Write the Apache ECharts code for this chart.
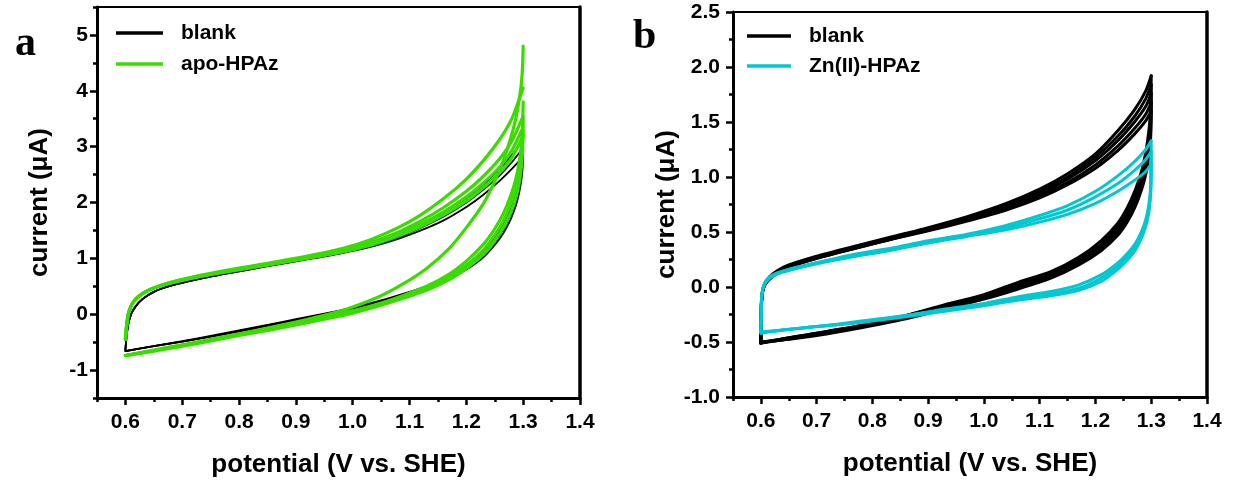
<!DOCTYPE html>
<html>
<head>
<meta charset="utf-8">
<script src="https://cdn.jsdelivr.net/npm/echarts@6/dist/echarts.min.js"></script>
<style>html,body{margin:0;padding:0;background:#fff}#c{width:1235px;height:484px}</style>
</head>
<body>
<div id="c"></div>
<script>
// ---------- Panel a : potential grids (V vs. SHE) ----------
const E_UP_A = [0.600, 0.602, 0.605, 0.610, 0.618, 0.630, 0.650, 0.680, 0.720, 0.780, 0.850, 0.920, 0.980, 1.030, 1.080, 1.120, 1.160, 1.200, 1.230, 1.260, 1.280, 1.300];
const E_DN_A = [1.300, 1.299, 1.297, 1.293, 1.287, 1.278, 1.265, 1.250, 1.230, 1.200, 1.170, 1.130, 1.090, 1.050, 1.000, 0.950, 0.900, 0.850, 0.800, 0.750, 0.700, 0.650, 0.600];

// blank (black), anodic branches, current in µA
const BLANK_A_UP1 = [-0.64, -0.40, -0.18, 0.00, 0.14, 0.27, 0.40, 0.51, 0.61, 0.73, 0.86, 0.98, 1.09, 1.20, 1.35, 1.50, 1.68, 1.92, 2.14, 2.40, 2.60, 2.82];
const BLANK_A_UP2 = [-0.64, -0.40, -0.18, 0.00, 0.14, 0.27, 0.40, 0.51, 0.61, 0.73, 0.86, 0.99, 1.10, 1.22, 1.38, 1.55, 1.75, 2.00, 2.23, 2.50, 2.72, 2.98];
const BLANK_A_UP3 = [-0.64, -0.40, -0.18, 0.00, 0.14, 0.27, 0.40, 0.51, 0.61, 0.74, 0.87, 1.00, 1.12, 1.24, 1.41, 1.60, 1.82, 2.08, 2.32, 2.62, 2.85, 3.12];
// blank (black), cathodic branches
const BLANK_A_DN1 = [2.82, 2.62, 2.42, 2.18, 1.94, 1.70, 1.45, 1.24, 1.02, 0.80, 0.63, 0.46, 0.33, 0.22, 0.10, -0.01, -0.11, -0.21, -0.31, -0.40, -0.49, -0.57, -0.66];
const BLANK_A_DN2 = [2.98, 2.78, 2.56, 2.30, 2.05, 1.79, 1.52, 1.30, 1.07, 0.84, 0.66, 0.48, 0.35, 0.23, 0.11, 0.00, -0.10, -0.20, -0.30, -0.40, -0.49, -0.57, -0.66];
const BLANK_A_DN3 = [3.12, 2.92, 2.70, 2.43, 2.16, 1.88, 1.60, 1.37, 1.12, 0.88, 0.69, 0.50, 0.37, 0.25, 0.12, 0.01, -0.09, -0.19, -0.29, -0.39, -0.48, -0.57, -0.66];

// apo-HPAz (green), anodic branches
const APO_UP1 = [-0.45, -0.22, 0.00, 0.15, 0.27, 0.37, 0.47, 0.57, 0.67, 0.79, 0.91, 1.04, 1.17, 1.33, 1.55, 1.78, 2.07, 2.42, 2.75, 3.15, 3.50, 4.05];
const APO_UP2 = [-0.45, -0.22, 0.00, 0.15, 0.27, 0.37, 0.47, 0.57, 0.66, 0.78, 0.90, 1.02, 1.14, 1.28, 1.47, 1.67, 1.91, 2.20, 2.47, 2.80, 3.10, 3.55];
const APO_UP3 = [-0.45, -0.22, 0.00, 0.15, 0.27, 0.37, 0.47, 0.56, 0.66, 0.77, 0.89, 1.01, 1.12, 1.25, 1.43, 1.61, 1.83, 2.10, 2.35, 2.65, 2.93, 3.35];
const APO_UP4 = [-0.45, -0.22, 0.00, 0.15, 0.27, 0.37, 0.47, 0.56, 0.65, 0.76, 0.88, 1.00, 1.11, 1.23, 1.40, 1.57, 1.78, 2.03, 2.27, 2.55, 2.80, 3.20];
// apo-HPAz (green), cathodic branches
const APO_DN1 = [4.80, 4.45, 4.15, 3.85, 3.50, 3.15, 2.75, 2.38, 1.98, 1.55, 1.18, 0.82, 0.55, 0.33, 0.13, -0.02, -0.14, -0.25, -0.35, -0.45, -0.55, -0.64, -0.74];
const APO_DN2 = [3.80, 3.40, 3.05, 2.72, 2.42, 2.12, 1.80, 1.53, 1.25, 0.95, 0.72, 0.50, 0.34, 0.20, 0.06, -0.05, -0.15, -0.26, -0.36, -0.46, -0.56, -0.65, -0.74];
const APO_DN3 = [3.50, 3.15, 2.85, 2.52, 2.25, 1.97, 1.67, 1.42, 1.15, 0.88, 0.67, 0.46, 0.31, 0.18, 0.04, -0.07, -0.17, -0.27, -0.37, -0.47, -0.56, -0.65, -0.74];
const APO_DN4 = [3.30, 2.95, 2.65, 2.35, 2.08, 1.82, 1.55, 1.32, 1.07, 0.82, 0.62, 0.43, 0.29, 0.16, 0.02, -0.09, -0.19, -0.29, -0.38, -0.48, -0.57, -0.66, -0.74];

// ---------- Panel b ----------
const E_UP_B = [0.600, 0.6005, 0.601, 0.603, 0.607, 0.615, 0.630, 0.650, 0.700, 0.760, 0.830, 0.900, 0.970, 1.040, 1.100, 1.150, 1.200, 1.240, 1.270, 1.290, 1.300];
const E_DN_B = [1.300, 1.2995, 1.299, 1.297, 1.294, 1.290, 1.283, 1.272, 1.258, 1.240, 1.210, 1.170, 1.120, 1.060, 1.000, 0.930, 0.860, 0.780, 0.700, 0.640, 0.600];

const BLANK_B_UP1 = [-0.50, -0.30, -0.15, -0.04, 0.02, 0.07, 0.13, 0.18, 0.26, 0.34, 0.43, 0.51, 0.60, 0.70, 0.81, 0.93, 1.08, 1.24, 1.39, 1.51, 1.60];
const BLANK_B_UP2 = [-0.50, -0.30, -0.15, -0.04, 0.02, 0.07, 0.13, 0.18, 0.26, 0.34, 0.43, 0.52, 0.61, 0.72, 0.83, 0.95, 1.11, 1.28, 1.44, 1.57, 1.68];
const BLANK_B_UP3 = [-0.51, -0.30, -0.15, -0.04, 0.02, 0.08, 0.14, 0.19, 0.27, 0.35, 0.44, 0.53, 0.62, 0.73, 0.85, 0.98, 1.15, 1.33, 1.50, 1.64, 1.76];
const BLANK_B_UP4 = [-0.51, -0.30, -0.15, -0.04, 0.03, 0.08, 0.14, 0.19, 0.27, 0.35, 0.44, 0.53, 0.63, 0.74, 0.87, 1.00, 1.18, 1.37, 1.55, 1.71, 1.84];
const BLANK_B_UP5 = [-0.51, -0.30, -0.15, -0.04, 0.03, 0.09, 0.15, 0.20, 0.28, 0.36, 0.45, 0.54, 0.64, 0.76, 0.89, 1.03, 1.21, 1.42, 1.61, 1.78, 1.92];
const BLANK_B_DN1 = [1.60, 1.46, 1.36, 1.24, 1.13, 1.02, 0.89, 0.74, 0.60, 0.47, 0.33, 0.20, 0.08, -0.02, -0.11, -0.20, -0.29, -0.37, -0.44, -0.48, -0.50];
const BLANK_B_DN2 = [1.68, 1.53, 1.42, 1.29, 1.18, 1.06, 0.93, 0.77, 0.63, 0.49, 0.35, 0.21, 0.09, -0.01, -0.10, -0.19, -0.28, -0.36, -0.43, -0.48, -0.50];
const BLANK_B_DN3 = [1.76, 1.61, 1.49, 1.35, 1.23, 1.11, 0.97, 0.81, 0.66, 0.52, 0.37, 0.23, 0.11, 0.01, -0.09, -0.18, -0.27, -0.36, -0.43, -0.48, -0.51];
const BLANK_B_DN4 = [1.84, 1.68, 1.56, 1.41, 1.29, 1.16, 1.01, 0.85, 0.69, 0.55, 0.39, 0.25, 0.12, 0.02, -0.08, -0.17, -0.26, -0.35, -0.42, -0.47, -0.51];
const BLANK_B_DN5 = [1.92, 1.76, 1.63, 1.48, 1.35, 1.22, 1.06, 0.89, 0.73, 0.58, 0.42, 0.27, 0.14, 0.04, -0.07, -0.16, -0.26, -0.35, -0.42, -0.47, -0.51];

const ZN_UP1 = [-0.41, -0.25, -0.12, -0.03, 0.03, 0.08, 0.12, 0.15, 0.21, 0.27, 0.33, 0.40, 0.46, 0.52, 0.59, 0.66, 0.76, 0.87, 0.97, 1.05, 1.12];
const ZN_UP2 = [-0.41, -0.25, -0.12, -0.03, 0.03, 0.08, 0.12, 0.16, 0.22, 0.28, 0.34, 0.41, 0.47, 0.54, 0.62, 0.70, 0.82, 0.94, 1.06, 1.16, 1.23];
const ZN_UP3 = [-0.42, -0.25, -0.12, -0.03, 0.04, 0.09, 0.13, 0.16, 0.22, 0.29, 0.35, 0.42, 0.48, 0.56, 0.65, 0.74, 0.87, 1.01, 1.14, 1.25, 1.33];
const ZN_DN1 = [1.12, 0.94, 0.85, 0.73, 0.63, 0.55, 0.45, 0.34, 0.25, 0.16, 0.05, -0.03, -0.08, -0.12, -0.17, -0.22, -0.27, -0.32, -0.36, -0.39, -0.41];
const ZN_DN2 = [1.23, 0.98, 0.88, 0.76, 0.66, 0.58, 0.48, 0.37, 0.28, 0.19, 0.08, -0.01, -0.06, -0.10, -0.16, -0.21, -0.26, -0.32, -0.36, -0.39, -0.41];
const ZN_DN3 = [1.33, 1.02, 0.92, 0.80, 0.70, 0.61, 0.51, 0.40, 0.31, 0.22, 0.11, 0.02, -0.04, -0.09, -0.15, -0.20, -0.26, -0.31, -0.36, -0.39, -0.42];

// ---------- tick values ----------
const X_MAJOR = [0.6, 0.7, 0.8, 0.9, 1.0, 1.1, 1.2, 1.3, 1.4];
const X_MINOR = [0.55, 0.65, 0.75, 0.85, 0.95, 1.05, 1.15, 1.25, 1.35];
const YA_MAJOR = [-1, 0, 1, 2, 3, 4, 5];
const YA_MINOR = [-1.5, -0.5, 0.5, 1.5, 2.5, 3.5, 4.5, 5.5];
const YB_MAJOR = [-1.0, -0.5, 0.0, 0.5, 1.0, 1.5, 2.0, 2.5];
const YB_MINOR = [-0.75, -0.25, 0.25, 0.75, 1.25, 1.75, 2.25];

const NAMES_A = ['blank', 'apo-HPAz'];
const NAMES_B = ['blank', 'Zn(II)-HPAz'];

const FONT = 'Liberation Sans, Arial, sans-serif';
const BLACK = '#000000', GREEN = '#3ADC00', CYAN = '#00C8D3';

function pts(E, I) { return E.map((e, k) => [e, I[k]]); }
function curve(name, panel, E, I, color, width, z) {
  return {
    name, type: 'line', xAxisIndex: panel, yAxisIndex: panel,
    data: pts(E, I), symbol: 'none', showSymbol: false,
    smooth: 0.25,
    lineStyle: { color, width, cap: 'round', join: 'round' },
    itemStyle: { color }, z, silent: true, animation: false
  };
}

const series = [
  curve(NAMES_A[0], 0, E_UP_A, BLANK_A_UP1, BLACK, 1.8, 2),
  curve(NAMES_A[0], 0, E_UP_A, BLANK_A_UP2, BLACK, 1.8, 2),
  curve(NAMES_A[0], 0, E_UP_A, BLANK_A_UP3, BLACK, 1.8, 2),
  curve(NAMES_A[0], 0, E_DN_A, BLANK_A_DN1, BLACK, 1.8, 2),
  curve(NAMES_A[0], 0, E_DN_A, BLANK_A_DN2, BLACK, 1.8, 2),
  curve(NAMES_A[0], 0, E_DN_A, BLANK_A_DN3, BLACK, 1.8, 2),
  curve(NAMES_A[1], 0, E_UP_A, APO_UP1, GREEN, 3.2, 3),
  curve(NAMES_A[1], 0, E_UP_A, APO_UP2, GREEN, 3.2, 3),
  curve(NAMES_A[1], 0, E_UP_A, APO_UP3, GREEN, 3.2, 3),
  curve(NAMES_A[1], 0, E_UP_A, APO_UP4, GREEN, 3.2, 3),
  curve(NAMES_A[1], 0, E_DN_A, APO_DN1, GREEN, 3.2, 3),
  curve(NAMES_A[1], 0, E_DN_A, APO_DN2, GREEN, 3.2, 3),
  curve(NAMES_A[1], 0, E_DN_A, APO_DN3, GREEN, 3.2, 3),
  curve(NAMES_A[1], 0, E_DN_A, APO_DN4, GREEN, 3.2, 3),
  curve(NAMES_B[0], 1, E_UP_B, BLANK_B_UP1, BLACK, 3, 2),
  curve(NAMES_B[0], 1, E_UP_B, BLANK_B_UP2, BLACK, 3, 2),
  curve(NAMES_B[0], 1, E_UP_B, BLANK_B_UP3, BLACK, 3, 2),
  curve(NAMES_B[0], 1, E_UP_B, BLANK_B_UP4, BLACK, 3, 2),
  curve(NAMES_B[0], 1, E_UP_B, BLANK_B_UP5, BLACK, 3, 2),
  curve(NAMES_B[0], 1, E_DN_B, BLANK_B_DN1, BLACK, 3, 2),
  curve(NAMES_B[0], 1, E_DN_B, BLANK_B_DN2, BLACK, 3, 2),
  curve(NAMES_B[0], 1, E_DN_B, BLANK_B_DN3, BLACK, 3, 2),
  curve(NAMES_B[0], 1, E_DN_B, BLANK_B_DN4, BLACK, 3, 2),
  curve(NAMES_B[0], 1, E_DN_B, BLANK_B_DN5, BLACK, 3, 2),
  curve(NAMES_B[1], 1, E_UP_B, ZN_UP1, CYAN, 3, 3),
  curve(NAMES_B[1], 1, E_UP_B, ZN_UP2, CYAN, 3, 3),
  curve(NAMES_B[1], 1, E_UP_B, ZN_UP3, CYAN, 3, 3),
  curve(NAMES_B[1], 1, E_DN_B, ZN_DN1, CYAN, 3, 3),
  curve(NAMES_B[1], 1, E_DN_B, ZN_DN2, CYAN, 3, 3),
  curve(NAMES_B[1], 1, E_DN_B, ZN_DN3, CYAN, 3, 3)
];

const labelStyle = { fontFamily: FONT, fontWeight: 'bold', fontSize: 21, color: '#000' };
const nameStyle = { fontFamily: FONT, fontWeight: 'bold', fontSize: 26, color: '#000' };

function xMain(grid) {
  return {
    type: 'value', gridIndex: grid, min: 0.55, max: 1.4, position: 'bottom',
    name: 'potential (V vs. SHE)', nameLocation: 'middle', nameGap: 54, nameTextStyle: nameStyle,
    axisLine: { show: true, onZero: false, lineStyle: { color: '#000', width: 3 } },
    axisTick: { show: true, inside: false, length: 7, lineStyle: { color: '#000', width: 2.5 }, customValues: X_MAJOR },
    axisLabel: { show: true, margin: 14, customValues: X_MAJOR, formatter: v => Number(v).toFixed(1), ...labelStyle },
    splitLine: { show: false }
  };
}
function xMinor(grid) {
  return {
    type: 'value', gridIndex: grid, min: 0.55, max: 1.4, position: 'bottom',
    axisLine: { show: false, onZero: false },
    axisTick: { show: true, inside: false, length: 4, lineStyle: { color: '#000', width: 2.5 }, customValues: X_MINOR },
    axisLabel: { show: false }, splitLine: { show: false }
  };
}
function yRight(grid, min, max) {
  return {
    type: 'value', gridIndex: grid, min, max, position: 'right',
    axisLine: { show: true, onZero: false, lineStyle: { color: '#000', width: 3.5 } },
    axisTick: { show: false }, axisLabel: { show: false }, splitLine: { show: false }
  };
}
function yMinor(grid, min, max, vals) {
  return {
    type: 'value', gridIndex: grid, min, max, position: 'left',
    axisLine: { show: false, onZero: false },
    axisTick: { show: true, inside: false, length: 4, lineStyle: { color: '#000', width: 2.5 }, customValues: vals },
    axisLabel: { show: false }, splitLine: { show: false }
  };
}
function yMain(grid, min, max, vals, fmt, gap, margin) {
  return {
    type: 'value', gridIndex: grid, min, max, position: 'left',
    name: 'current (\u03bcA)', nameLocation: 'middle', nameGap: gap, nameRotate: 90, nameTextStyle: nameStyle,
    axisLine: { show: true, onZero: false, lineStyle: { color: '#000', width: 3 } },
    axisTick: { show: true, inside: false, length: 7, lineStyle: { color: '#000', width: 2.5 }, customValues: vals },
    axisLabel: { show: true, margin, customValues: vals, formatter: fmt, ...labelStyle },
    splitLine: { show: false }
  };
}

const legendText = { fontFamily: FONT, fontWeight: 'bold', fontSize: 21, color: '#000', padding: [0, 0, 0, 13], lineHeight: 22 };

const option = {
  animation: false,
  backgroundColor: '#fff',
  title: [
    { text: 'a', left: 10, top: 18, textStyle: { fontFamily: 'Liberation Serif, Times New Roman, serif', fontWeight: 'bold', fontSize: 42, color: '#000' } },
    { text: 'b', left: 628, top: 11, textStyle: { fontFamily: 'Liberation Serif, Times New Roman, serif', fontWeight: 'bold', fontSize: 42, color: '#000' } }
  ],
  grid: [
    { left: 97, top: 7, width: 483, height: 391, show: true, borderColor: '#000', borderWidth: 2, backgroundColor: 'transparent' },
    { left: 733, top: 12, width: 474, height: 385, show: true, borderColor: '#000', borderWidth: 2, backgroundColor: 'transparent' }
  ],
  legend: [
    { data: NAMES_A, left: 116, top: 22, padding: 0, orient: 'vertical', icon: 'rect', itemWidth: 47, itemHeight: 3.5, itemGap: 9, textStyle: legendText, selectedMode: false },
    { data: NAMES_B, left: 747, top: 25, padding: 0, orient: 'vertical', icon: 'rect', itemWidth: 44, itemHeight: 3.5, itemGap: 8, textStyle: legendText, selectedMode: false }
  ],
  xAxis: [xMain(0), xMain(1), xMinor(0), xMinor(1)],
  yAxis: [
    yMain(0, -1.5, 5.5, YA_MAJOR, v => String(Math.round(v)), 44, 9),
    yMain(1, -1.0, 2.5, YB_MAJOR, v => Number(v).toFixed(1), 48, 13),
    yRight(0, -1.5, 5.5),
    yRight(1, -1.0, 2.5),
    yMinor(0, -1.5, 5.5, YA_MINOR),
    yMinor(1, -1.0, 2.5, YB_MINOR)
  ],
  series
};

const chart = echarts.init(document.getElementById('c'), null, { renderer: 'canvas' });
chart.setOption(option);
</script>
</body>
</html>
